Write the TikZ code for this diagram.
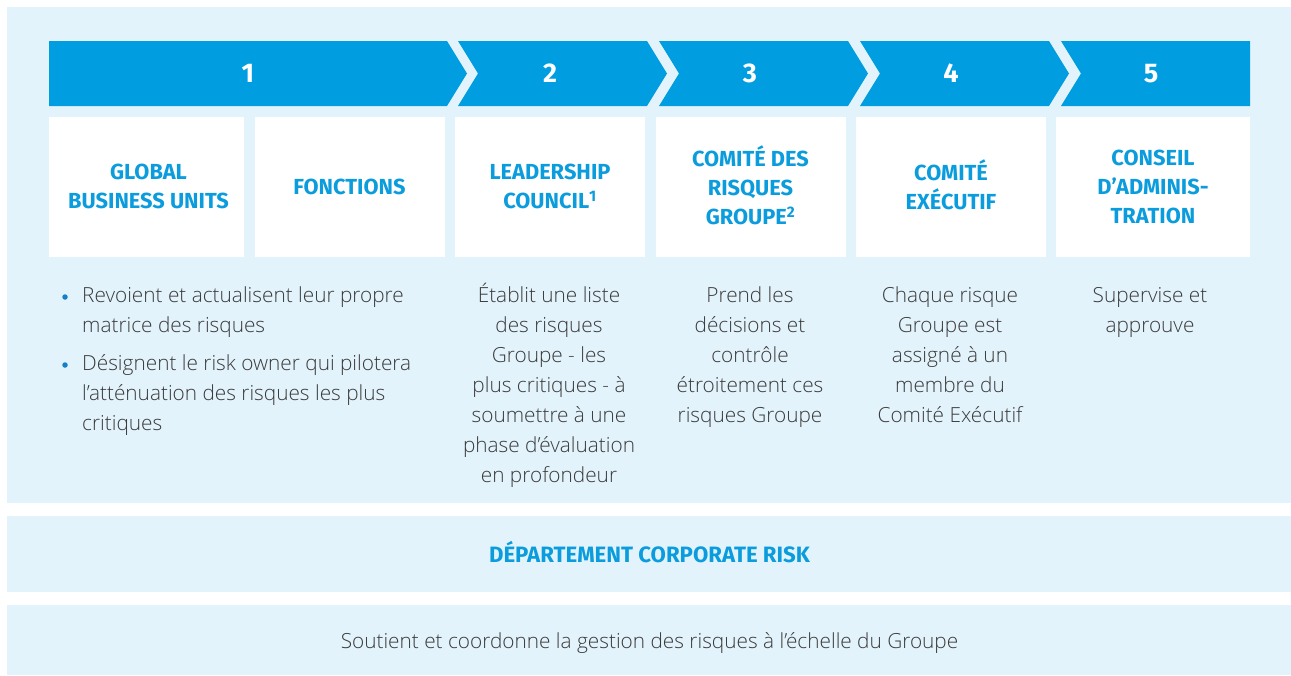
\documentclass[tikz,border=0pt]{standalone}
\usepackage{fontspec}
\setmainfont{Open Sans}[UprightFont={* Light}]
\newfontfamily\titlefont{Fira Sans}
\definecolor{lightbg}{HTML}{E3F3FB}
\definecolor{barblue}{HTML}{009EE0}
\definecolor{titleblue}{HTML}{0A9CDC}
\definecolor{bodygray}{HTML}{3A3A3A}
\definecolor{dotblue}{HTML}{1480C8}
\tikzset{
  panel/.style={fill=lightbg},
  seg/.style={fill=barblue},
  num/.style={text=white, font=\titlefont\bfseries\fontsize{27}{30}\selectfont, inner sep=0pt},
  whitebox/.style={fill=white, minimum height=140pt, inner sep=0pt},
  boxtitle/.style={align=center, inner sep=0pt,
    text=titleblue, font=\titlefont\bfseries\fontsize{21.8}{29}\selectfont},
  body/.style={text=bodygray, font=\fontsize{20.8}{30}\selectfont, inner sep=0pt},
  colbody/.style={body, align=center, anchor=north},
  itembody/.style={body, align=left, anchor=north west},
  bulletdot/.style={circle, fill=dotblue, minimum size=5.5pt, inner sep=0pt},
  bandtitle/.style={text=titleblue, font=\titlefont\bfseries\fontsize{22.2}{29}\selectfont, inner sep=0pt},
}
\begin{document}
\begin{tikzpicture}[x=1pt,y=-1pt]
\useasboundingbox (0,0) rectangle (1291,675);
% background panels
\fill[panel] (7,7) rectangle (1291,503);
\fill[panel] (7,516) rectangle (1291,592);
\fill[panel] (7,605) rectangle (1291,675);
% chevron bar
\fill[seg] (49,41) -- (447,41) -- (467,73.5) -- (447,106) -- (49,106) -- cycle;
\fill[seg] (458,41) -- (647,41) -- (667,73.5) -- (647,106) -- (458,106) -- (478,73.5) -- cycle;
\fill[seg] (659,41) -- (848,41) -- (868,73.5) -- (848,106) -- (659,106) -- (679,73.5) -- cycle;
\fill[seg] (860,41) -- (1049,41) -- (1069,73.5) -- (1049,106) -- (860,106) -- (880,73.5) -- cycle;
\fill[seg] (1061,41) -- (1250,41) -- (1250,106) -- (1061,106) -- (1081,73.5) -- cycle;
\node[num] (n1) at (248,73.5) {1};
\node[num] (n2) at (550,73.5) {2};
\node[num] (n3) at (750,73.5) {3};
\node[num] (n4) at (951,73.5) {4};
\node[num] (n5) at (1151,73.5) {5};
% white boxes
\node[whitebox, minimum width=195pt] (b1) at (146,187) {};
\node[whitebox, minimum width=190pt] (b2) at (349.5,187) {};
\node[whitebox, minimum width=190pt] (b3) at (550,187) {};
\node[whitebox, minimum width=190pt] (b4) at (750.5,187) {};
\node[whitebox, minimum width=190pt] (b5) at (951,187) {};
\node[whitebox, minimum width=194pt] (b6) at (1153,187) {};
% box titles
\node[boxtitle] (h1) at (148.5,186.5) {GLOBAL\\BUSINESS UNITS};
\node[boxtitle] (h2) at (349.5,187) {FONCTIONS};
\node[boxtitle] (h3) at (550,186.5) {LEADERSHIP\\COUNCIL\textsuperscript{1}};
\node[boxtitle] (h4) at (750.5,185.5) {COMITÉ DES\\RISQUES\\GROUPE\textsuperscript{2}};
\node[boxtitle] (h5) at (951,184.5) {COMITÉ\\EXÉCUTIF};
\node[boxtitle] (h6) at (1153,187) {CONSEIL\\D’ADMINIS-\\TRATION};
% bullet list
\node[bulletdot] (d1) at (65,297) {};
\node[bulletdot] (d2) at (65,365) {};
\node[itembody] (i1) at (82,281.3) {\strut Revoient et actualisent leur propre\\matrice des risques};
\node[itembody] (i2) at (82,349.3) {\strut Désignent le risk owner qui pilotera\\l’atténuation des risques les plus\\critiques};
% column texts
\node[colbody] (t3) at (549,281.3) {\strut Établit une liste\\des risques\\Groupe - les\\plus critiques - à\\soumettre à une\\phase d’évaluation\\en profondeur};
\node[colbody] (t4) at (750,281.3) {\strut Prend les\\décisions et\\contrôle\\étroitement ces\\risques Groupe};
\node[colbody] (t5) at (950,281.3) {\strut Chaque risque\\Groupe est\\assigné à un\\membre du\\Comité Exécutif};
\node[colbody] (t6) at (1150,281.3) {\strut Supervise et\\approuve};
% bottom bands
\node[bandtitle, anchor=base] (dep) at (649.5,562.7) {DÉPARTEMENT CORPORATE RISK};
\node[body, anchor=base] (sout) at (649.5,648.5) {Soutient et coordonne la gestion des risques à l’échelle du Groupe};
\end{tikzpicture}
\end{document}
